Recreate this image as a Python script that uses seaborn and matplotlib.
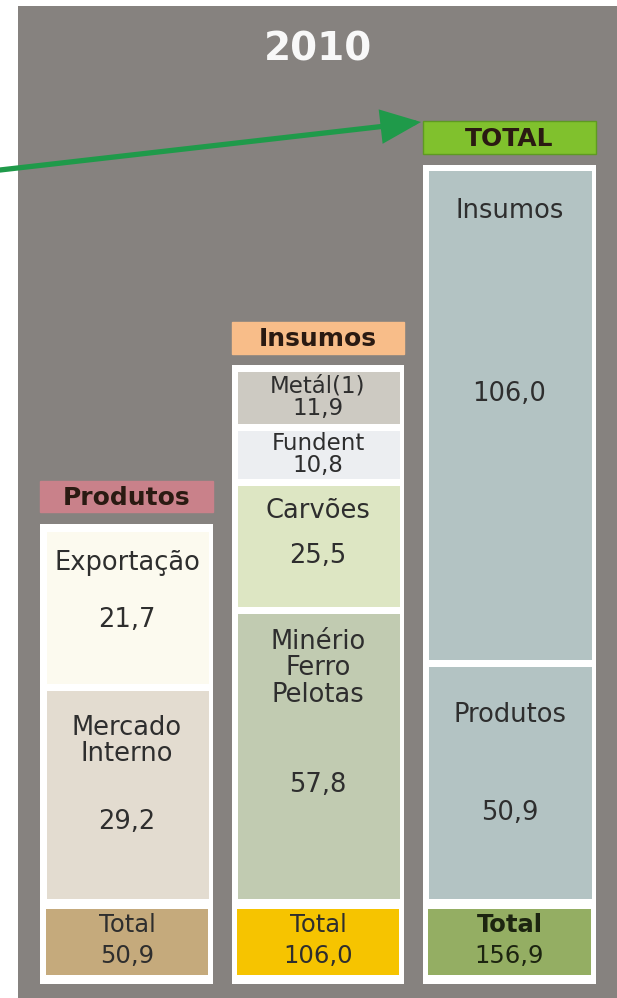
import matplotlib
matplotlib.use("Agg")
import matplotlib.pyplot as plt
from matplotlib.patches import Rectangle, FancyArrowPatch
import seaborn as sns
import pandas as pd

# ---------------- data ----------------
title = "2010"
column_headers = ["Produtos", "Insumos", "TOTAL"]
produtos_parts = ["Exportação", "Mercado\nInterno"]
produtos_values = [21.7, 29.2]
insumos_parts = ["Metál(1)", "Fundent", "Carvões", "Minério\nFerro\nPelotas"]
insumos_values = [11.9, 10.8, 25.5, 57.8]
total_parts = ["Insumos", "Produtos"]
total_values = [106.0, 50.9]
column_totals = [50.9, 106.0, 156.9]
total_label = "Total"

# ---------------- style / layout ----------------
W, H = 617, 998
sns.set_theme(style="white")
plt.rcParams['font.family'] = ['DejaVu Sans']

GRAY = '#86827f'
TXT = '#2e2e2e'
HDR_TXT = '#2a1a12'
CELL_FS = 18.5
SMALL_FS = 16.5

part_colors = {
    "Exportação": '#fcfaef', "Mercado\nInterno": '#e3dcd0',
    "Metál(1)": '#cdcac2', "Fundent": '#eceef1', "Carvões": '#dde6c3',
    "Minério\nFerro\nPelotas": '#c1cbb1',
    "Insumos": '#b3c3c3', "Produtos": '#b3c3c3',
}
# text placement: ('center',) or (label offset px from segment top, value fraction)
part_text = {
    "Exportação": (36, 0.58), "Mercado\nInterno": (54, 0.63),
    "Metál(1)": ('center',), "Fundent": ('center',),
    "Carvões": (29, 0.58), "Minério\nFerro\nPelotas": (58, 0.60),
    "Insumos": (44, 0.456), "Produtos": (52, 0.63),
}

columns = [
    dict(parts=produtos_parts, values=produtos_values, white=(40, 213), inner=(46, 208),
         header=(481, 512), white_top=524, stack_top=531,
         header_color='#c9818a', total_color='#c5aa7c', bold_total=False, header_edge=None),
    dict(parts=insumos_parts, values=insumos_values, white=(232, 404), inner=(237, 399),
         header=(322, 354), white_top=365, stack_top=371,
         header_color='#f8bd89', total_color='#f6c400', bold_total=False, header_edge=None),
    dict(parts=total_parts, values=total_values, white=(423, 596), inner=(428, 591),
         header=(121, 154), white_top=165, stack_top=171,
         header_color='#80c12d', total_color='#94ae63', bold_total=True, header_edge='#5e9a22'),
]
STACK_BOTTOM = 898
TOTAL_CELL = (909, 975)
WHITE_BOTTOM = 984
GAP = 7.0

def fmt(v):
    return f"{v:.1f}".replace('.', ',')

fig = plt.figure(figsize=(W / 100, H / 100), dpi=100)
fig.patch.set_facecolor('white')
bg = fig.add_axes([0, 0, 1, 1])
bg.set_xlim(0, W)
bg.set_ylim(H, 0)
bg.axis('off')

def prect(x0, y0, x1, y1, **kw):
    bg.add_patch(Rectangle((x0, y0), x1 - x0, y1 - y0, **kw))

# gray panel
prect(18, 6, W + 2, H + 2, facecolor=GRAY, lw=0)

# title
bg.text(318, 49, title, ha='center', va='center', color='#f8f8f8',
        fontsize=28, fontweight='bold')

# arrow
arrow = FancyArrowPatch((0, 170), (421, 122), arrowstyle='-|>,head_length=0.75,head_width=0.32',
                        mutation_scale=30, color='#1f9a4a', lw=3.8, shrinkA=0, shrinkB=0,
                        joinstyle='miter')
bg.add_patch(arrow)

lw_pt = GAP * 72 / 100

for i, col in enumerate(columns):
    wx0, wx1 = col['white']
    ix0, ix1 = col['inner']
    hy0, hy1 = col['header']
    # header box
    prect(wx0, hy0, wx1, hy1, facecolor=col['header_color'],
          edgecolor=col['header_edge'] or col['header_color'], lw=1.0)
    bg.text((wx0 + wx1) / 2, (hy0 + hy1) / 2 + 1, column_headers[i], ha='center', va='center',
            color=HDR_TXT, fontsize=18, fontweight='bold')
    # white frame
    prect(wx0, col['white_top'], wx1, WHITE_BOTTOM, facecolor='white', lw=0)
    # total cell
    ty0, ty1 = TOTAL_CELL
    prect(ix0, ty0, ix1, ty1, facecolor=col['total_color'], lw=0)
    tcol = '#1c2410' if col['bold_total'] else TXT
    bg.text((ix0 + ix1) / 2, 925, total_label, ha='center', va='center', color=tcol,
            fontsize=17.5, fontweight='bold' if col['bold_total'] else 'normal')
    bg.text((ix0 + ix1) / 2, 956, fmt(column_totals[i]), ha='center', va='center',
            color=tcol, fontsize=17.5)

    # stacked cells axes
    ax0, ax1 = ix0 - GAP / 2, ix1 + GAP / 2
    ayt, ayb = col['stack_top'] - GAP / 2, STACK_BOTTOM + GAP / 2
    ax = fig.add_axes([ax0 / W, 1 - ayb / H, (ax1 - ax0) / W, (ayb - ayt) / H])
    ax.patch.set_alpha(0)
    df = pd.DataFrame({"col": [0] * len(col['parts']), "part": col['parts'], "value": col['values']})
    sns.histplot(data=df, x="col", weights="value", hue="part", hue_order=col['parts'],
                 multiple="stack", discrete=True, shrink=1,
                 palette={p: part_colors[p] for p in col['parts']}, alpha=1,
                 edgecolor='white', linewidth=lw_pt, legend=False, ax=ax)
    total = sum(col['values'])
    ax.set_xlim(-0.5, 0.5)
    ax.set_ylim(0, total)
    ax.axis('off')

    top = total
    for p, v in zip(col['parts'], col['values']):
        seg_top, seg_bot = top, top - v
        spec = part_text[p]
        if spec[0] == 'center':
            ax.text(0, (seg_top + seg_bot) / 2, f"{p}\n{fmt(v)}", ha='center', va='center',
                    color=TXT, fontsize=SMALL_FS, linespacing=0.98)
        else:
            off, frac = spec
            ax.annotate(p, xy=(0, seg_top), xytext=(0, -off), textcoords='offset pixels',
                        ha='center', va='center', color=TXT, fontsize=CELL_FS, linespacing=1.02)
            ax.text(0, seg_top - frac * v, fmt(v), ha='center', va='center', color=TXT,
                    fontsize=CELL_FS)
        top = seg_bot

fig.savefig("out.png", dpi=100, facecolor='white')
